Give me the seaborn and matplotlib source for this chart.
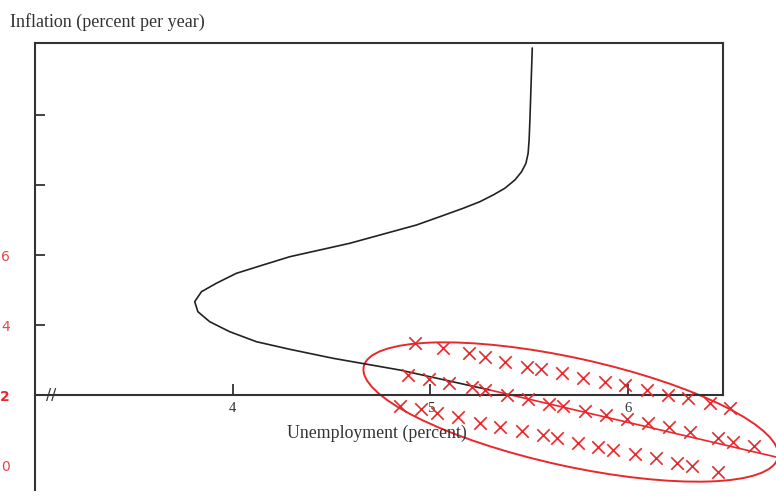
import matplotlib
matplotlib.use("Agg")
import matplotlib.pyplot as plt
import seaborn as sns
from matplotlib.patches import Ellipse
from matplotlib.transforms import Affine2D, ScaledTranslation

# Phillips-type curve (black part)
curve_u = [5.516, 5.509, 5.504, 5.500, 5.495, 5.484, 5.462, 5.428, 5.377, 5.318, 5.251,
           5.166, 5.048, 4.930, 4.592, 4.289, 4.153, 4.019, 3.917, 3.842, 3.808, 3.824,
           3.884, 3.985, 4.120, 4.289, 4.508, 4.846, 5.301]
curve_pi = [11.914, 10.714, 9.857, 9.286, 8.906, 8.620, 8.380, 8.143, 7.906, 7.714, 7.523,
            7.334, 7.094, 6.857, 6.334, 5.951, 5.714, 5.477, 5.191, 4.951, 4.666, 4.380,
            4.094, 3.809, 3.523, 3.306, 3.049, 2.714, 2.143]

# red continuation of the curve
ext_u = [5.301, 6.749]
ext_pi = [2.143, 0.229]

# observed points (three bands)
obs1_u = [4.922, 5.062, 5.196, 5.276, 5.377, 5.487, 5.559, 5.664, 5.774, 5.884, 5.985,
          6.095, 6.204, 6.305, 6.415, 6.516]
obs1_pi = [3.494, 3.334, 3.191, 3.094, 2.951, 2.809, 2.734, 2.620, 2.477, 2.380, 2.286,
           2.143, 2.000, 1.906, 1.763, 1.620]
obs2_u = [4.888, 4.994, 5.095, 5.209, 5.276, 5.386, 5.495, 5.602, 5.672, 5.782, 5.889,
          5.993, 6.103, 6.209, 6.314, 6.457, 6.530, 6.638]
obs2_pi = [2.571, 2.449, 2.334, 2.237, 2.143, 2.000, 1.877, 1.743, 1.686, 1.551, 1.429,
           1.306, 1.191, 1.077, 0.951, 0.763, 0.666, 0.543]
obs3_u = [4.846, 4.955, 5.034, 5.141, 5.251, 5.355, 5.462, 5.568, 5.639, 5.748, 5.850,
          5.926, 6.035, 6.142, 6.250, 6.323, 6.457]
obs3_pi = [1.686, 1.591, 1.477, 1.363, 1.209, 1.094, 0.971, 0.857, 0.763, 0.637, 0.523,
           0.429, 0.314, 0.191, 0.066, -0.029, -0.191]

x_ticks = [4, 5, 6]
y_ticks = [0, 2, 4, 6, 8, 10]
y_ticklabels = ["0", "2", "4", "6", "", ""]

RED = "#e8282c"
DARK = "#333333"

sns.set_style("white")
plt.rcParams["font.family"] = ["DejaVu Sans"]

fig = plt.figure(figsize=(7.76, 4.96), dpi=100)
ax = fig.add_axes([35 / 776, 6 / 496, 688 / 776, 447 / 496])
ax.set_xlim(3.0, 6.481)
ax.set_ylim(-0.714, 12.057)

sns.lineplot(x=curve_u, y=curve_pi, sort=False, estimator=None, color="#222222",
             linewidth=1.2, ax=ax)
sns.lineplot(x=ext_u, y=ext_pi, sort=False, estimator=None, color=RED,
             linewidth=1.2, ax=ax, clip_on=False)

for xs, ys in [(obs1_u, obs1_pi), (obs2_u, obs2_pi), (obs3_u, obs3_pi)]:
    sns.scatterplot(x=xs, y=ys, marker="x", s=80, color=RED, linewidth=1.2,
                    ax=ax, clip_on=False, zorder=3)

# ellipse round the observations (size in pixels, centred in data coords)
ell_tr = Affine2D() + ScaledTranslation(5.711, 1.514, ax.transData)
ax.add_patch(Ellipse((0, 0), 424, 108, angle=-12.4, fill=False, edgecolor=RED,
                     linewidth=1.4, transform=ell_tr, clip_on=False))

# spines
for s in ax.spines.values():
    s.set_color(DARK)
    s.set_linewidth(1.5)
ax.spines["bottom"].set_position(("data", 2))
ax.spines["right"].set_bounds(2, 12.057)

ax.set_xticks(x_ticks)
ax.set_xticklabels([str(v) for v in x_ticks], family="Liberation Serif",
                   fontsize=10.5, color=DARK)
ax.tick_params(axis="x", bottom=True, direction="in", length=8, width=1.3,
               color=DARK, pad=5)

ax.set_yticks(y_ticks)
ax.set_yticklabels(y_ticklabels, fontsize=10, color="#e04848")
ax.tick_params(axis="y", left=True, direction="in", length=7, width=1.3,
               color=DARK, pad=18)
for i, t in enumerate(ax.yaxis.get_major_ticks()):
    if y_ticks[i] in (0, 2):
        t.tick1line.set_visible(False)
    if y_ticks[i] == 2:
        t.label1.set_fontweight("bold")
        t.label1.set_color(RED)

# axis break mark on the horizontal axis
ax.text(3.084, 2, "//", ha="center", va="center", fontsize=11, color=DARK,
        family="DejaVu Sans")

ax.text(4.73, 0.91, "Unemployment (percent)", ha="center", va="center",
        family="Liberation Serif", fontsize=12.8, color=DARK)
fig.text(10 / 776, 1 - 22 / 496, "Inflation (percent per year)", ha="left", va="center",
         family="Liberation Serif", fontsize=13, color=DARK)

fig.savefig("out.png", dpi=100)
